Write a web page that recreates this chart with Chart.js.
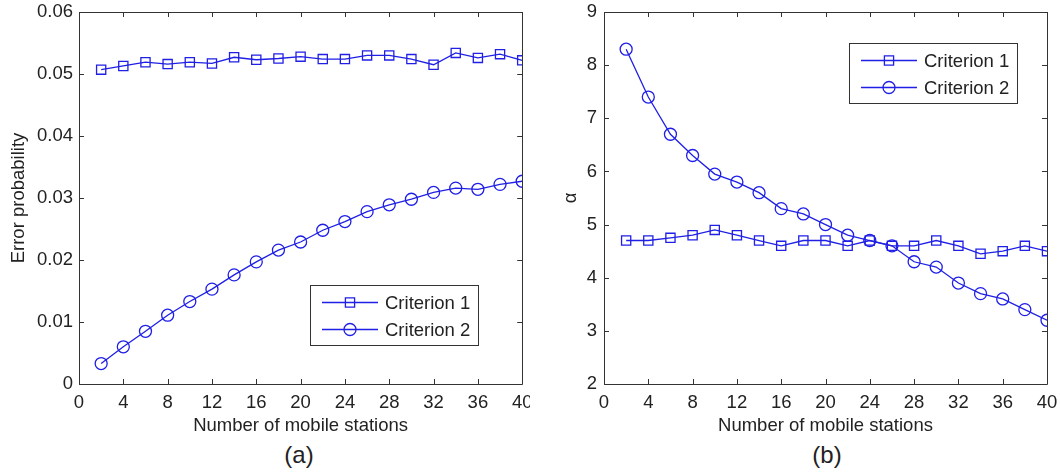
<!DOCTYPE html>
<html>
<head>
<meta charset="utf-8">
<script src="https://cdn.jsdelivr.net/npm/chart.js@4"></script>
<style>
  body { margin: 0; background: #fff; }
  .panel { position: absolute; top: 0; width: 530px; height: 440px; }
  .cap { position: absolute; top: 441px; font: 24px "Liberation Sans", Arial, sans-serif; color: #222; text-align: center; width: 60px; }
</style>
</head>
<body>
<div class="panel" style="left:0"><canvas id="chartA" width="530" height="440"></canvas></div>
<div class="panel" style="left:530px"><canvas id="chartB" width="530" height="440"></canvas></div>
<div class="cap" style="left:269px">(a)</div>
<div class="cap" style="left:797px">(b)</div>
<script>
// Data
const stations = [2, 4, 6, 8, 10, 12, 14, 16, 18, 20, 22, 24, 26, 28, 30, 32, 34, 36, 38, 40];

const errCrit1 = [0.0507, 0.0513, 0.0519, 0.0516, 0.0519, 0.0517, 0.0527, 0.0523, 0.0525, 0.0528,
                  0.0524, 0.0524, 0.0530, 0.0530, 0.0524, 0.0515, 0.0534, 0.0526, 0.0532, 0.0522];
const errCrit2 = [0.0033, 0.0060, 0.0085, 0.0111, 0.0133, 0.0153, 0.0176, 0.0197, 0.0216, 0.0229,
                  0.0248, 0.0262, 0.0278, 0.0289, 0.0298, 0.0309, 0.0316, 0.0314, 0.0322, 0.0327];

const alphaCrit1 = [4.7, 4.7, 4.75, 4.8, 4.9, 4.8, 4.7, 4.6, 4.7, 4.7,
                    4.6, 4.7, 4.6, 4.6, 4.7, 4.6, 4.45, 4.5, 4.6, 4.5];
const alphaCrit2 = [8.3, 7.4, 6.7, 6.3, 5.95, 5.8, 5.6, 5.3, 5.2, 5.0,
                    4.8, 4.7, 4.6, 4.3, 4.2, 3.9, 3.7, 3.6, 3.4, 3.2];

const seriesNames = ['Criterion 1', 'Criterion 2'];
const xTicks = [0, 4, 8, 12, 16, 20, 24, 28, 32, 36, 40];
const errTicks = [0, 0.01, 0.02, 0.03, 0.04, 0.05, 0.06];
const alphaTicks = [2, 3, 4, 5, 6, 7, 8, 9];

const BLUE = '#1f1fe6';
const AXIS = '#333';
const FONT = '"Liberation Sans", Arial, sans-serif';
const FSIZE = 18.5;

// box around the plot with inward tick marks (matlab style)
const framePlugin = {
  id: 'frame',
  afterDatasetsDraw(chart) {
    const { ctx, chartArea: a, scales } = chart;
    ctx.save();
    ctx.strokeStyle = AXIS;
    ctx.lineWidth = 1;
    ctx.beginPath();
    ctx.rect(Math.round(a.left) + 0.5, Math.round(a.top) + 0.5,
             Math.round(a.right - a.left), Math.round(a.bottom - a.top));
    const len = 5;
    scales.x.ticks.forEach(t => {
      const px = Math.round(scales.x.getPixelForValue(t.value)) + 0.5;
      ctx.moveTo(px, a.bottom); ctx.lineTo(px, a.bottom - len);
      ctx.moveTo(px, a.top); ctx.lineTo(px, a.top + len);
    });
    scales.y.ticks.forEach(t => {
      const py = Math.round(scales.y.getPixelForValue(t.value)) + 0.5;
      ctx.moveTo(a.left, py); ctx.lineTo(a.left + len, py);
      ctx.moveTo(a.right, py); ctx.lineTo(a.right - len, py);
    });
    ctx.stroke();
    ctx.restore();
  }
};

function drawMarker(ctx, style, x, y, r) {
  ctx.beginPath();
  if (style === 'rect') {
    const s = r * Math.SQRT1_2;
    ctx.rect(x - s, y - s, 2 * s, 2 * s);
  } else {
    ctx.arc(x, y, r, 0, Math.PI * 2);
  }
  ctx.stroke();
}

// legend box drawn inside the plot
const boxLegend = {
  id: 'boxLegend',
  afterDraw(chart, args, opts) {
    const { ctx } = chart;
    const x = opts.x, y = opts.y;
    ctx.save();
    ctx.fillStyle = '#fff';
    ctx.fillRect(x, y, 168, 60);
    ctx.strokeStyle = AXIS;
    ctx.lineWidth = 1;
    ctx.strokeRect(x + 0.5, y + 0.5, 168, 60);
    chart.data.datasets.forEach((ds, i) => {
      const ry = y + 17.5 + i * 27;
      ctx.strokeStyle = ds.borderColor;
      ctx.lineWidth = ds.borderWidth;
      ctx.beginPath();
      ctx.moveTo(x + 12, ry); ctx.lineTo(x + 68, ry);
      ctx.stroke();
      drawMarker(ctx, ds.pointStyle, x + 40, ry, ds.pointRadius);
      ctx.fillStyle = '#222';
      ctx.font = FSIZE + 'px ' + FONT;
      ctx.textBaseline = 'middle';
      ctx.fillText(ds.label, x + 75, ry + 1);
    });
    ctx.restore();
  }
};

function makeSet(label, data, style, r) {
  return {
    label: label,
    data: data,
    borderColor: BLUE,
    backgroundColor: 'transparent',
    borderWidth: 1.3,
    pointStyle: style,
    pointRadius: r,
    pointBorderWidth: 1.3,
    pointBorderColor: BLUE,
    pointBackgroundColor: 'transparent',
    tension: 0
  };
}

function fixPadding(s) {
  s.paddingTop = 0; s.paddingBottom = 0; s.paddingLeft = 0; s.paddingRight = 0;
}

function makeChart(id, d1, d2, yTicks, yTitle, o) {
  return new Chart(document.getElementById(id), {
    type: 'line',
    data: {
      labels: stations,
      datasets: [makeSet(seriesNames[0], d1, 'rect', 6.5), makeSet(seriesNames[1], d2, 'circle', 6)]
    },
    plugins: [framePlugin, boxLegend],
    options: {
      responsive: false,
      animation: false,
      layout: { padding: { left: 0, right: o.padRight, top: 12, bottom: 0 } },
      plugins: {
        legend: { display: false },
        tooltip: { enabled: false },
        boxLegend: { x: o.legX, y: o.legY }
      },
      scales: {
        x: {
          type: 'linear',
          min: 0, max: 40,
          afterBuildTicks: s => { s.ticks = xTicks.map(v => ({ value: v })); },
          afterFit: s => { s.height = 56; fixPadding(s); },
          grid: { display: false, drawTicks: false },
          border: { display: false },
          ticks: { color: '#222', font: { family: FONT, size: FSIZE }, padding: 8, maxRotation: 0, autoSkip: false },
          title: { display: true, text: 'Number of mobile stations', color: '#222',
                   font: { family: FONT, size: FSIZE }, padding: { top: 0, bottom: 3 } }
        },
        y: {
          min: yTicks[0], max: yTicks[yTicks.length - 1],
          afterBuildTicks: s => { s.ticks = yTicks.map(v => ({ value: v })); },
          afterFit: s => { s.width = o.yWidth; fixPadding(s); },
          grid: { display: false, drawTicks: false },
          border: { display: false },
          ticks: { color: '#222', font: { family: FONT, size: FSIZE }, padding: o.tickPad, autoSkip: false },
          title: { display: true, text: yTitle, color: '#222',
                   font: { family: FONT, size: FSIZE }, padding: { top: o.titlePad, bottom: 0 } }
        }
      }
    }
  });
}

makeChart('chartA', errCrit1, errCrit2, errTicks, 'Error probability',
  { padRight: 7, yWidth: 79, tickPad: 6, titlePad: 8, legX: 310, legY: 285 });
makeChart('chartB', alphaCrit1, alphaCrit2, alphaTicks, 'α',
  { padRight: 13, yWidth: 74, tickPad: 7, titlePad: 30, legX: 319, legY: 43 });
</script>
</body>
</html>
